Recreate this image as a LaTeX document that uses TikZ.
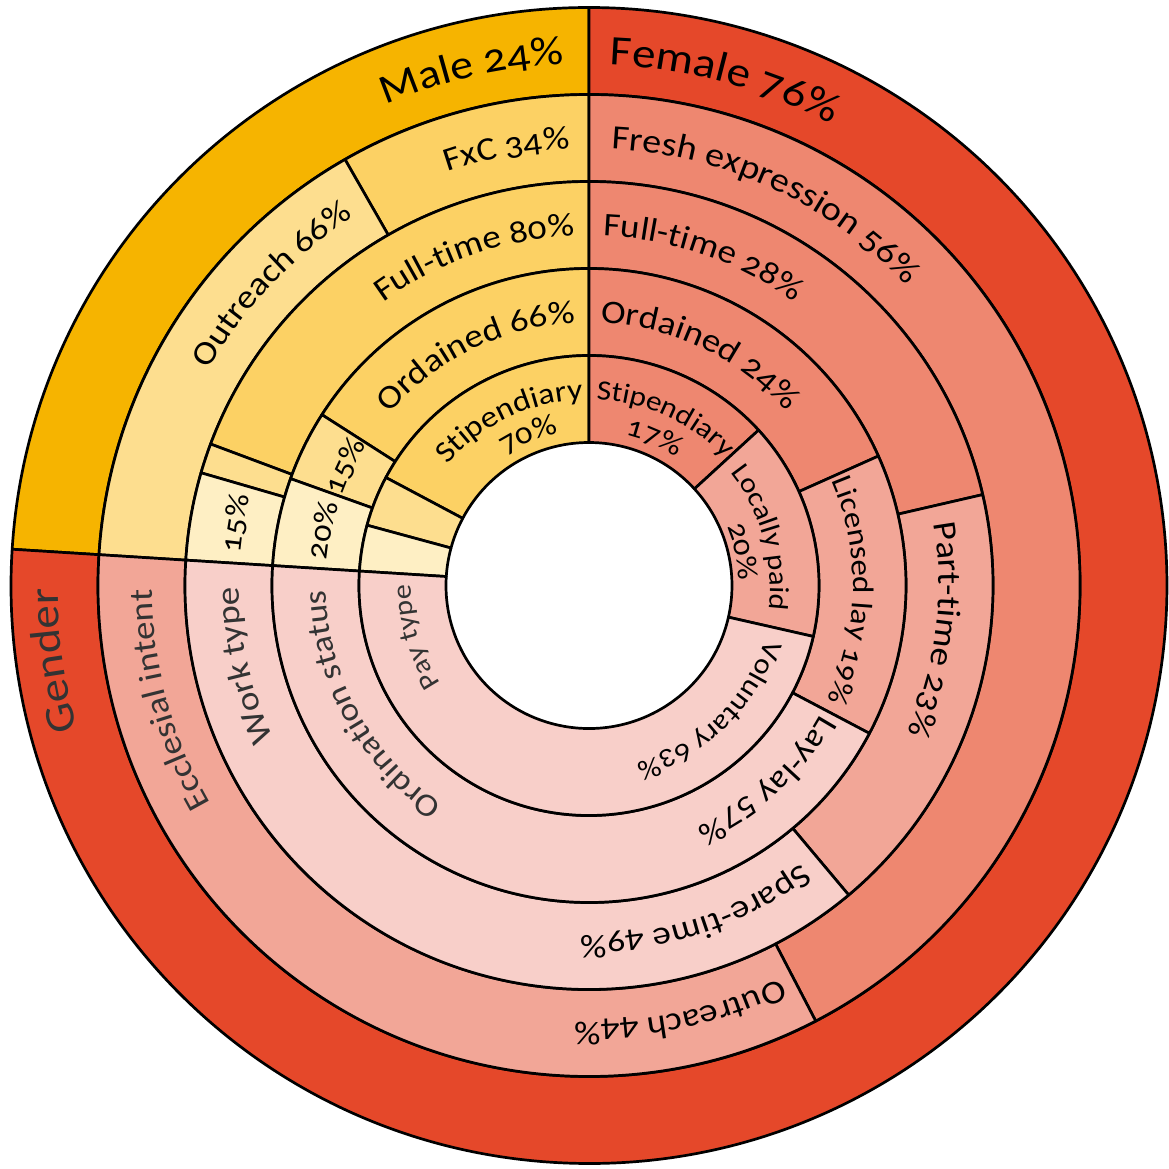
\documentclass[tikz,border=0pt]{standalone}
\usepackage{fontspec}
\setmainfont{Carlito}[Numbers=OldStyle,FakeStretch=1.12]
\usetikzlibrary{decorations.text}
\definecolor{maleG}{HTML}{F6B400}
\definecolor{femG}{HTML}{E5482A}
\definecolor{mdark}{HTML}{FCD164}
\definecolor{mmid}{HTML}{FDDE8F}
\definecolor{mlight}{HTML}{FEEFC4}
\definecolor{fdark}{HTML}{EE8770}
\definecolor{fmid}{HTML}{F2A697}
\definecolor{flight}{HTML}{F8CFC9}
\tikzset{segline/.style={draw=black,line width=2.7pt,line join=round}}
% #1 inner r, #2 outer r, #3 start angle, #4 end angle, #5 colour
\newcommand\seg[5]{\filldraw[segline,fill=#5] (#3:#2) arc[start angle=#3, end angle=#4, radius=#2] -- (#4:#1) arc[start angle=#4, end angle=#3, radius=#1] -- cycle;}
% #1 centre angle, #2 baseline radius, #3 font size, #4 text
\newcommand\arclabel[4]{\path[decorate,decoration={text along path,text align=center,text={|\fontsize{#3}{#3}\selectfont|#4}}] (#1+70:#2) arc[start angle=#1+70, end angle=#1-70, radius=#2];}
\newcommand\arcname[4]{\path[decorate,decoration={text along path,text align=center,text={|\fontsize{#3}{#3}\selectfont\color{black!80}|#4}}] (#1+70:#2) arc[start angle=#1+70, end angle=#1-70, radius=#2];}
\begin{document}
\begin{tikzpicture}[x=1pt,y=1pt]
\useasboundingbox (-589,-582.5) rectangle (580,585.5);
% ring 5: gender
\seg{491}{578}{90}{176.4}{maleG}
\seg{491}{578}{-183.6}{90}{femG}
% ring 4: ecclesial intent
\seg{404}{491}{90}{119.8}{mdark}
\seg{404}{491}{119.8}{176.4}{mmid}
\seg{404}{491}{-62.5}{90}{fdark}
\seg{404}{491}{-183.6}{-62.5}{fmid}
% ring 3: work type
\seg{317}{404}{90}{159.5}{mdark}
\seg{317}{404}{159.5}{163.8}{mmid}
\seg{317}{404}{163.8}{176.4}{mlight}
\seg{317}{404}{13}{90}{fdark}
\seg{317}{404}{-50}{13}{fmid}
\seg{317}{404}{-183.6}{-50}{flight}
% ring 2: ordination status
\seg{230}{317}{90}{147.4}{mdark}
\seg{230}{317}{147.4}{160.3}{mmid}
\seg{230}{317}{160.3}{176.4}{mlight}
\seg{230}{317}{24.1}{90}{fdark}
\seg{230}{317}{-27.8}{24.1}{fmid}
\seg{230}{317}{-183.6}{-27.8}{flight}
% ring 1: pay type
\seg{143}{230}{90}{152}{mdark}
\seg{143}{230}{152}{164.8}{mmid}
\seg{143}{230}{164.8}{176.4}{mlight}
\seg{143}{230}{42.5}{90}{fdark}
\seg{143}{230}{-12.8}{42.5}{fmid}
\seg{143}{230}{-183.6}{-12.8}{flight}
% labels: gender ring
\arclabel{102.8}{522}{41}{Male 24{\%}}
\arclabel{75}{521}{42}{Female 76{\%}}
\arcname{188}{531}{42}{Gender}
% ring 4
\arclabel{100.7}{437}{33}{FxC 34{\%}}
\arclabel{136.5}{437}{33}{Outreach 66{\%}}
\arclabel{65.2}{437}{34}{Fresh expression 56{\%}}
\arclabel{-78}{437}{33}{Outreach 44{\%}}
\arcname{195.2}{437}{33}{Ecclesial intent}
% ring 3
\arclabel{109.2}{350}{33}{Full-time 80{\%}}
\arclabel{170}{350}{30}{15{\%}}
\arclabel{70.9}{350}{33}{Full-time 28{\%}}
\arclabel{-7.3}{350}{33}{Part-time 23{\%}}
\arclabel{-72}{350}{33}{Spare-time 49{\%}}
\arcname{193.1}{350}{33}{Work type}
% ring 2
\arclabel{116.1}{263}{33}{Ordained 66{\%}}
\arclabel{153.9}{263}{30}{15{\%}}
\arclabel{168.3}{263}{30}{20{\%}}
\arclabel{64.4}{263}{33}{Ordained 24{\%}}
\arclabel{-1.2}{264}{29.5}{Licensed lay 19{\%}}
\arclabel{-47.5}{265}{32}{Lay-lay 57{\%}}
\arcname{208.6}{263}{32}{Ordination status}
% ring 1
\arclabel{115.7}{186}{30}{Stipendiary}
\arclabel{112}{155}{30}{70{\%}}
\arclabel{65.5}{186}{28}{Stipendiary}
\arclabel{66}{155}{29}{17{\%}}
\arclabel{15.5}{181}{27.5}{Locally paid}
\arclabel{12.5}{150}{29}{20{\%}}
\arclabel{-46}{184}{28}{Voluntary 63{\%}}
\arcname{196.6}{178}{27}{Pay type}
\end{tikzpicture}
\end{document}
